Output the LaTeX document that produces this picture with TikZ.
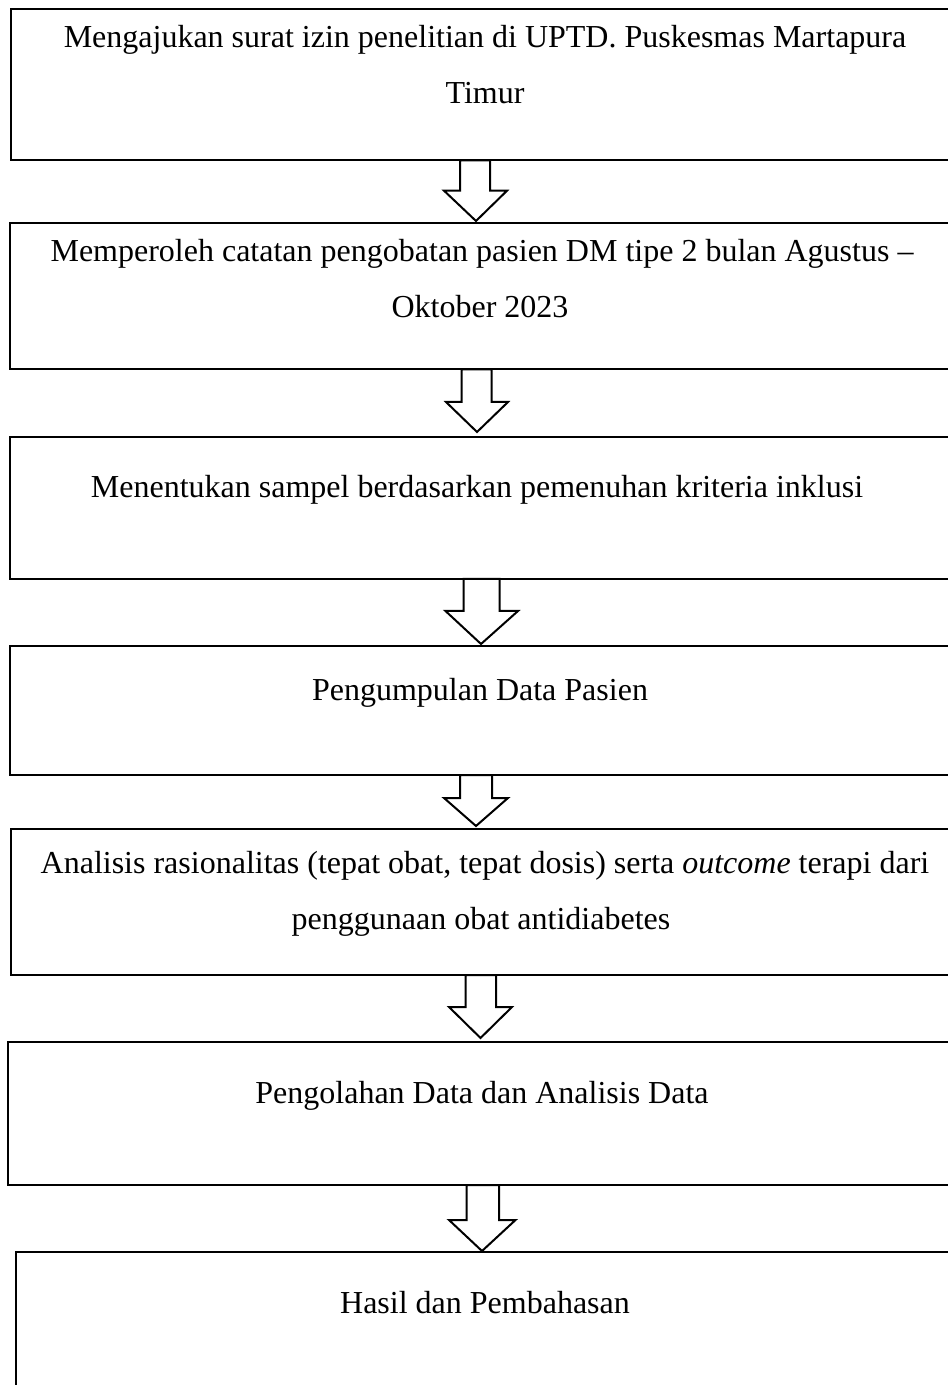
\documentclass[tikz,border=0pt]{standalone}
\usepackage{fontspec}
\setmainfont{Liberation Serif}
\usetikzlibrary{fit}
\begin{document}
\begin{tikzpicture}[x=0.375pt,y=-0.375pt,
  stepbox/.style={draw=black,line width=0.75pt,inner sep=0pt,rectangle},
  label/.style={font=\fontsize{12}{14}\selectfont,anchor=base,inner sep=0pt},
  blockarrow/.style={draw=black,line width=0.75pt,fill=white,line join=miter}]
\useasboundingbox (0,0) rectangle (947,1385);
% boxes
\node[stepbox,fit={(11,9) (955,160.5)}] (b1) {};
\node[stepbox,fit={(10,223) (955,369.5)}] (b2) {};
\node[stepbox,fit={(10,437) (955,579)}] (b3) {};
\node[stepbox,fit={(10,646) (955,775)}] (b4) {};
\node[stepbox,fit={(11,829) (955,975)}] (b5) {};
\node[stepbox,fit={(8,1042) (955,1185)}] (b6) {};
\node[stepbox,fit={(16,1252) (955,1420)}] (b7) {};
% texts
\node[label] (t1a) at (485,48) {Mengajukan surat izin penelitian di UPTD. Puskesmas Martapura};
\node[label] (t1b) at (485,104) {Timur};
\node[label] (t2a) at (482,262) {Memperoleh catatan pengobatan pasien DM tipe 2 bulan Agustus –};
\node[label] (t2b) at (480,318) {Oktober 2023};
\node[label] (t3) at (477,498) {Menentukan sampel berdasarkan pemenuhan kriteria inklusi};
\node[label] (t4) at (480,700) {Pengumpulan Data Pasien};
\node[label] (t5a) at (485,873) {Analisis rasionalitas (tepat obat, tepat dosis) serta \textit{outcome} terapi dari};
\node[label] (t5b) at (481,929) {penggunaan obat antidiabetes};
\node[label] (t6) at (482,1103) {Pengolahan Data dan Analisis Data};
\node[label] (t7) at (485,1313) {Hasil dan Pembahasan};
% block arrows (from box to box)
\draw[blockarrow] (460,160.5) -- (460,190.7) -- (444,190.7) -- (476,221) -- (507,190.7) -- (490,190.7) -- (490,160.5) -- cycle;
\draw[blockarrow] (461.7,369.5) -- (461.7,402) -- (446,402) -- (477,432) -- (508,402) -- (491.7,402) -- (491.7,369.5) -- cycle;
\draw[blockarrow] (463.5,579) -- (463.5,611) -- (445.5,611) -- (481,644) -- (518,611) -- (499.5,611) -- (499.5,579) -- cycle;
\draw[blockarrow] (460,775) -- (460,798) -- (444,798) -- (476,826) -- (508,798) -- (492,798) -- (492,775) -- cycle;
\draw[blockarrow] (465.5,975) -- (465.5,1007) -- (449,1007) -- (480.5,1038) -- (512,1007) -- (496,1007) -- (496,975) -- cycle;
\draw[blockarrow] (466.5,1185) -- (466.5,1220) -- (449,1220) -- (482,1251) -- (515.5,1220) -- (499,1220) -- (499,1185) -- cycle;
\end{tikzpicture}
\end{document}
